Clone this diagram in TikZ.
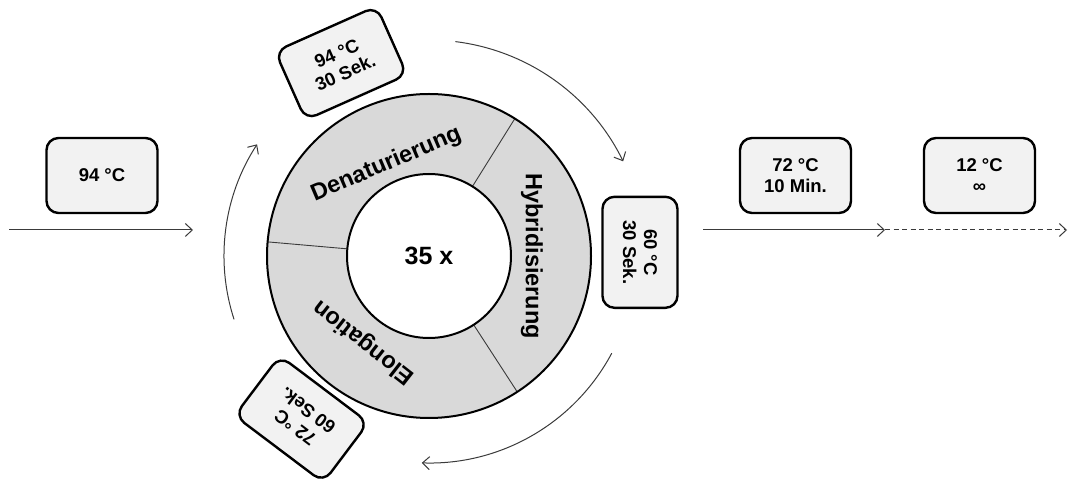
\documentclass[tikz,border=0pt]{standalone}
\usepackage{fontspec}
\setmainfont{Liberation Sans}
\usetikzlibrary{calc,arrows.meta}
\definecolor{boxgray}{HTML}{F2F2F2}
\definecolor{ringgray}{HTML}{D9D9D9}
\definecolor{linegray}{HTML}{3A3A3A}

\begin{document}
\begin{tikzpicture}[x=1pt, y=1pt,
    tempbox/.style={draw, line width=2.4pt, rounded corners=12pt,
      fill=boxgray, minimum width=111pt, minimum height=75pt,
      align=center, inner sep=0,
      font=\bfseries\fontsize{18.5}{21}\selectfont},
    phase/.style={font=\bfseries\fontsize{23.5}{26}\selectfont},
    flow/.style={draw=linegray, line width=1pt,
      -{Straight Barb[length=7pt,width=13pt]}}]
  \useasboundingbox (0,0) rectangle (1069,479);
  \coordinate (centre) at (429,223);
  % ring with the three phases
  \fill[ringgray] (centre) circle[radius=162];
  \fill[white] (centre) circle[radius=82];
  \foreach \a in {58,-57,175}
    \draw[line width=0.9pt, linegray] ($(centre)+(\a:82)$) -- ($(centre)+(\a:162)$);
  \draw[line width=2pt] (centre) circle[radius=162] (centre) circle[radius=82];
  \node[font=\bfseries\fontsize{25}{28}\selectfont] (count) at (centre) {35 x};
  \node[phase, rotate=23] (denat) at ($(centre)+(115:101)$) {Denaturierung};
  \node[phase, rotate=-90] (hybrid) at ($(centre)+(0:103)$) {Hybridisierung};
  \node[phase, rotate=142] (elong) at ($(centre)+(233:108)$) {Elongation};
  % temperature boxes
  \node[tempbox] (start) at (102,303.5) {94 °C};
  \node[tempbox, rotate=24] (denbox) at ($(centre)+(114.5:212)$) {94 °C\\30 Sek.};
  \node[tempbox, rotate=-90] (hybbox) at ($(centre)+(1:211)$) {60 °C\\30 Sek.};
  \node[tempbox, rotate=143] (elobox) at ($(centre)+(232:207)$) {72 °C\\60 Sek.};
  \node[tempbox] (final) at (795.5,303.5) {72 °C\\10 Min.};
  \node[tempbox] (hold) at (979.5,303.5) {12 °C\\∞};
  % time line
  \coordinate (in) at (9,249);
  \coordinate (inend) at (193,249);
  \coordinate (out) at (703,249);
  \coordinate (outmid) at (885,249);
  \coordinate (outend) at (1067,249);
  \draw[flow] (in) -- (inend);
  \draw[flow] (out) -- (outmid);
  \draw[flow, dash pattern=on 5pt off 3.5pt] (outmid) -- (outend);
  % cycle arrows
  \draw[flow] ($(centre)+(83:216)$) arc[start angle=83, end angle=26, radius=216];
  \draw[flow] ($(centre)+(-28:207)$) arc[start angle=-28, end angle=-92, radius=207];
  \draw[flow] ($(centre)+(198:205)$) arc[start angle=198, end angle=147, radius=205];
\end{tikzpicture}
\end{document}
